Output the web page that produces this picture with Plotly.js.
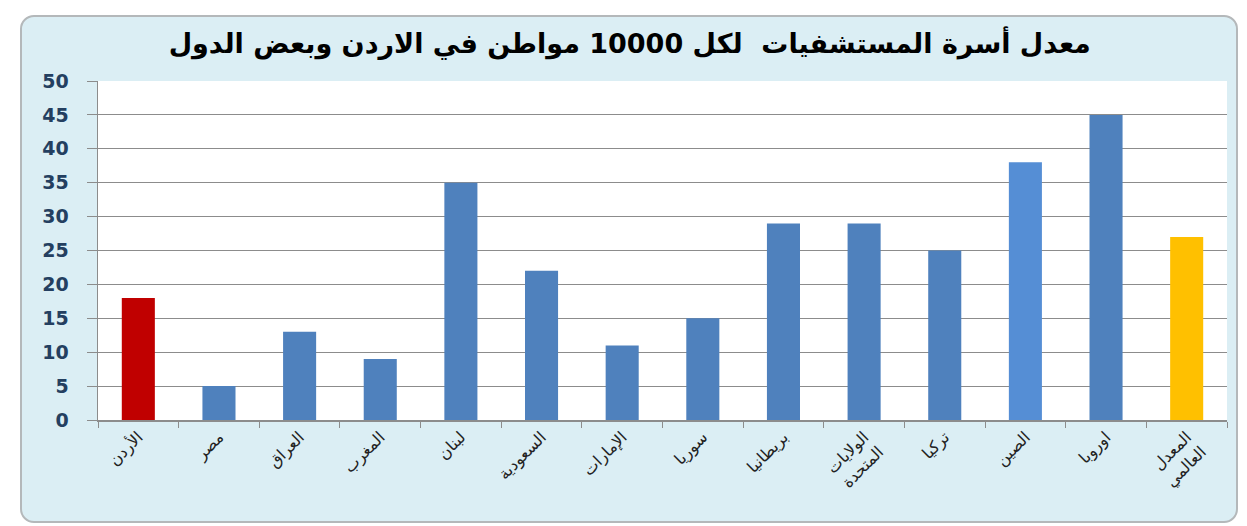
<!DOCTYPE html>
<html>
<head>
<meta charset="utf-8">
<script src="https://cdn.plot.ly/plotly-3.0.1.min.js"></script>
<style>
  body { margin: 0; background: #ffffff; }
  #frame {
    position: absolute; left: 20px; top: 15px; width: 1214px; height: 504px;
    background: #dbeef4; border: 2px solid #b4b8ba; border-radius: 14px;
  }
  #plotArea { position: absolute; left: 0; top: 0; width: 1247px; height: 526px; }
</style>
</head>
<body>
<div id="frame"></div>
<div id="plotArea"></div>
<script>
// عدد الأسرة لكل 10000 مواطن
var countries = ["الأردن", "مصر", "العراق", "المغرب", "لبنان", "السعودية", "الإمارات",
                 "سوريا", "بريطانيا", "الولايات المتحدة", "تركيا", "الصين", "اوروبا", "المعدل العالمي"];
var beds = [18, 5, 13, 9, 35, 22, 11, 15, 29, 29, 25, 38, 45, 27];
var barColors = ["#c00000", "#4f81bd", "#4f81bd", "#4f81bd", "#4f81bd", "#4f81bd", "#4f81bd",
                 "#4f81bd", "#4f81bd", "#4f81bd", "#4f81bd", "#558ed5", "#4f81bd", "#ffc000"];
var tickLabels = countries.map(function (c) {
    return c == "الولايات المتحدة" ? "الولايات<br>المتحدة" : (c == "المعدل العالمي" ? "المعدل<br>العالمي" : c);
});

var trace = [{
    x: countries,
    y: beds,
    type: "bar",
    marker: {color: barColors},
    hoverinfo: "x+y"
}];

var layout = {
    width: 1247,
    height: 526,
    margin: {l: 98, r: 20, t: 81, b: 106},
    paper_bgcolor: "rgba(0,0,0,0)",
    plot_bgcolor: "#ffffff",
    bargap: 0.59,
    showlegend: false,
    font: {family: "DejaVu Sans, sans-serif"},
    title: {
        text: "<b>معدل أسرة المستشفيات  لكل 10000 مواطن في الاردن وبعض الدول</b>",
        font: {size: 27, color: "#000000", family: "DejaVu Sans, sans-serif"},
        x: 0.505, xanchor: "center", y: 0.917, yanchor: "middle"
    },
    xaxis: {
        tickmode: "array",
        tickvals: countries,
        ticktext: tickLabels,
        tickangle: -45,
        tickfont: {size: 16, color: "#222222"},
        ticks: "outside",
        tickson: "boundaries",
        ticklen: 6,
        tickcolor: "#8c8c8c",
        showline: true,
        linecolor: "#8c8c8c",
        linewidth: 1.5,
        fixedrange: true
    },
    yaxis: {
        range: [0, 50],
        dtick: 5,
        tickfont: {size: 19, color: "#243f60", family: "DejaVu Sans, sans-serif", weight: "bold"},
        ticks: "outside",
        ticklen: 10,
        tickcolor: "#8c8c8c",
        showline: true,
        linecolor: "#8c8c8c",
        linewidth: 1.5,
        gridcolor: "#8c8c8c",
        gridwidth: 1,
        zeroline: false,
        ticklabelstandoff: 14,
        fixedrange: true
    }
};

Plotly.newPlot("plotArea", trace, layout, {displayModeBar: false, staticPlot: true});
</script>
</body>
</html>
